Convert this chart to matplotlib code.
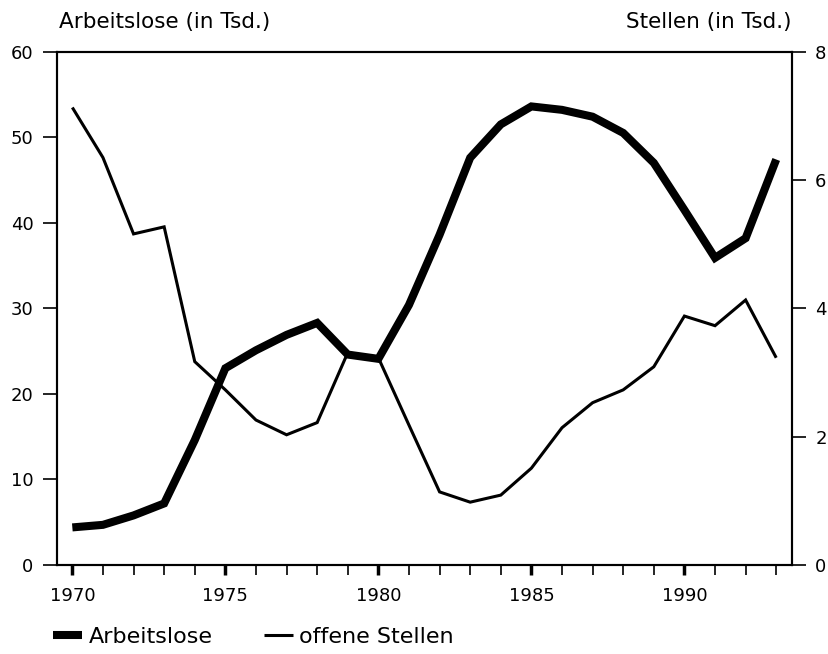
import matplotlib
matplotlib.use("Agg")
import matplotlib.pyplot as plt
from matplotlib.ticker import MultipleLocator

plt.rcParams['font.family'] = ['DejaVu Sans']

years = list(range(1970, 1994))
# Arbeitslose (in Tsd.), linke Achse
arbeitslose = [4.4, 4.7, 5.8, 7.2, 14.6, 23.0, 25.1, 26.9, 28.3, 24.6, 24.1, 30.4,
               38.6, 47.6, 51.5, 53.6, 53.2, 52.4, 50.5, 47.0, 41.5, 35.9, 38.2, 47.4]
# offene Stellen (in Tsd.), rechte Achse
stellen = [7.13, 6.35, 5.16, 5.27, 3.17, 2.73, 2.26, 2.03, 2.22, 3.31, 3.23, 2.18,
           1.14, 0.98, 1.09, 1.51, 2.14, 2.53, 2.73, 3.09, 3.88, 3.73, 4.13, 3.23]
major_years = [1970, 1975, 1980, 1985, 1990]

fig = plt.figure(figsize=(8.29, 6.54), dpi=100)
ax = fig.add_axes([0.0688, 0.136, 0.886, 0.785])
ax2 = ax.twinx()

l1, = ax.plot(years, arbeitslose, color='black', lw=5.8, solid_joinstyle='miter',
              solid_capstyle='butt', zorder=3)
l2, = ax2.plot(years, stellen, color='black', lw=2.2, solid_joinstyle='miter',
               solid_capstyle='butt')

ax.set_xlim(1969.5, 1993.5)
ax.set_ylim(0, 60)
ax2.set_ylim(0, 8)
ax.set_yticks(range(0, 61, 10))
ax2.set_yticks(range(0, 9, 2))
ax.set_xticks(major_years)
ax.xaxis.set_minor_locator(MultipleLocator(1))

for a in (ax, ax2):
    for s in a.spines.values():
        s.set_linewidth(1.5)
ax.tick_params(axis='y', direction='out', length=10, width=1.2, labelsize=13, pad=7)
ax2.tick_params(axis='y', direction='out', length=10, width=1.2, labelsize=13, pad=7)
ax.tick_params(axis='x', which='major', direction='out', length=7, width=2.5,
               labelsize=13, pad=9)
ax.tick_params(axis='x', which='minor', direction='out', length=7, width=1.2)

fig.text(0.0712, 0.966, 'Arbeitslose (in Tsd.)', fontsize=15.5, ha='left', va='center')
fig.text(0.955, 0.966, 'Stellen (in Tsd.)', fontsize=15.5, ha='right', va='center')

fig.legend([l1, l2], ['Arbeitslose', 'offene Stellen'], loc='center left',
           bbox_to_anchor=(0.064, 0.026), ncol=2, frameon=False, fontsize=16,
           borderpad=0, borderaxespad=0,
           handlelength=1.3, handletextpad=0.3, columnspacing=2.3)

fig.savefig('out.png', dpi=100)
